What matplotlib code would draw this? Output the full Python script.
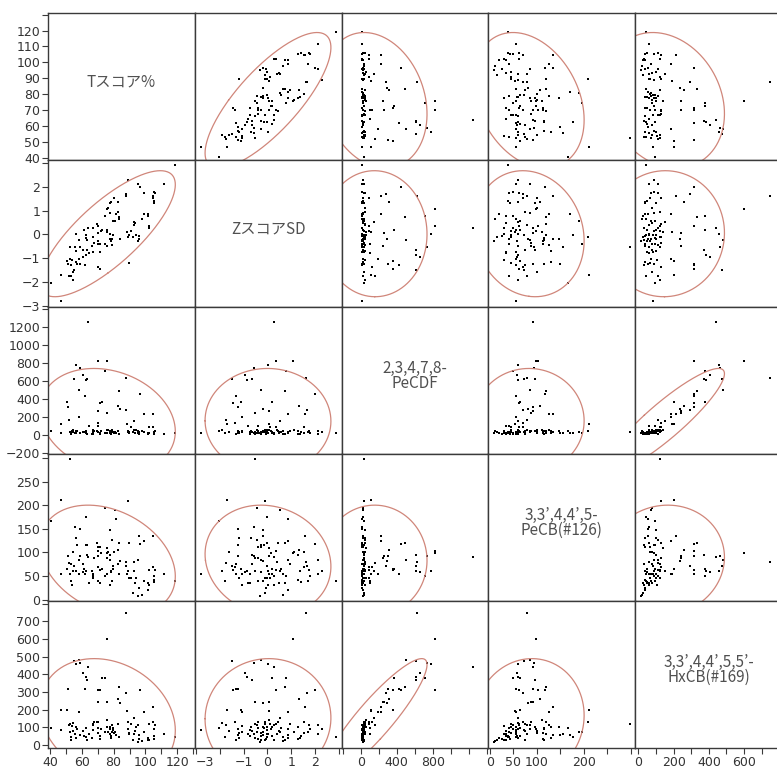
import numpy as np
import matplotlib.pyplot as plt

plt.rcParams['font.family'] = ['Noto Sans CJK JP', 'DejaVu Sans']

names = ['Tスコア%', 'ZスコアSD', '2,3,4,7,8-\nPeCDF',
         '3,3’,4,4’,5-\nPeCB(#126)', '3,3’,4,4’,5,5’-\nHxCB(#169)']

t_score = [118.8, 88.9, 111.7, 95.6, 96.6, 99.2, 87.5, 88.0, 80.0, 104.6,
           105.5, 106.0, 104.8, 105.6, 105.5, 78.0, 78.6, 76.6, 75.6, 83.0,
           77.8, 81.5, 82.5, 99.0, 101.8, 101.8, 74.6, 79.5, 81.0, 83.2,
           83.6, 98.0, 92.8, 93.4, 92.8, 102.0, 102.0, 69.7, 70.3, 63.8,
           61.5, 67.0, 72.6, 72.4, 75.6, 75.8, 70.3, 78.0, 79.5, 56.6,
           62.6, 62.6, 63.2, 67.0, 58.0, 70.3, 71.4, 77.6, 78.2, 79.0,
           84.0, 89.3, 89.6, 92.0, 94.0, 91.0, 88.5, 95.8, 96.2, 95.2,
           52.7, 56.0, 56.4, 59.0, 60.8, 63.4, 66.5, 67.4, 70.0, 74.8,
           75.6, 79.0, 71.6, 67.0, 64.5, 62.5, 60.5, 58.5, 56.4, 57.0,
           59.2, 62.2, 50.8, 52.8, 53.6, 51.5, 53.5, 55.0, 54.2, 53.2,
           51.8, 47.0, 54.5, 40.4, 47.0, 70.0, 71.5, 89.8]

z_score = [2.90, 2.30, 2.13, 2.13, 2.00, 1.72, 1.61, 1.68, 1.54, 1.60,
           1.78, 1.74, 1.52, 1.42, 1.30, 1.30, 1.36, 1.10, 1.08, 1.35,
           0.88, 0.85, 0.95, 0.86, 0.86, 0.76, 0.78, 0.58, 0.55, 0.65,
           0.74, 0.65, 0.52, 0.48, 0.40, 0.35, 0.28, 0.44, 0.35, 0.26,
           0.20, 0.28, 0.20, 0.14, 0.18, 0.08, 0.05, 0.02, -0.02, 0.03,
           -0.01, -0.14, -0.25, -0.10, -0.25, -0.28, -0.40, -0.18, -0.28, -0.20,
           -0.20, -0.10, -0.02, -0.10, -0.02, 0.12, 0.08, -0.05, -0.20, -0.30,
           -0.52, -0.55, -0.68, -0.55, -0.65, -0.65, -0.50, -0.38, -0.40, -0.42,
           -0.50, -0.45, -0.73, -0.73, -0.80, -0.87, -0.95, -1.05, -1.18, -1.25,
           -1.25, -1.30, -1.10, -1.05, -1.08, -1.25, -1.30, -1.50, -1.60, -1.76,
           -1.73, -1.70, -1.90, -2.04, -2.80, -1.38, -1.45, -1.21]

pecdf = [20, 30, 15, 40, 452, 35, 630, 277, 25, 230,
         20, 45, 90, 30, 10, 40, 15, 50, 826, 318,
         30, 20, 45, 230, 25, 15, 711, 35, 30, 10,
         489, 40, 150, 25, 50, 90, 20, 45, 826, 1251,
         30, 15, 366, 40, 25, 55, 260, 20, 35, 777,
         25, 40, 15, 50, 500, 30, 20, 45, 10, 30,
         290, 40, 20, 35, 55, 90, 119, 15, 30, 25,
         35, 20, 45, 740, 30, 620, 10, 40, 100, 25,
         248, 50, 15, 35, 100, 613, 660, 196, 25, 40,
         20, 430, 360, 30, 45, 307, 15, 620, 35, 25,
         160, 120, 50, 40, 20, 130, 355, 30]

pecb = [39, 60, 55, 85, 117, 40, 80, 71, 100, 135,
        50, 62, 70, 38, 42, 95, 60, 100, 99, 106,
        85, 170, 75, 125, 20, 35, 50, 65, 190, 55,
        120, 10, 60, 35, 80, 63, 30, 120, 103, 91,
        65, 50, 65, 98, 55, 110, 92, 30, 72, 60,
        176, 116, 116, 45, 85, 112, 112, 148, 58, 40,
        81, 209, 120, 15, 45, 45, 54, 25, 134, 8,
        298, 155, 130, 93, 75, 95, 60, 88, 40, 195,
        88, 126, 35, 55, 35, 60, 58, 55, 130, 116,
        150, 55, 65, 55, 30, 92, 75, 72, 100, 40,
        78, 211, 60, 167, 55, 70, 62, 45]

hxcb = [44, 90, 60, 110, 313, 70, 745, 291, 65, 213,
        90, 110, 130, 50, 35, 100, 40, 75, 602, 260,
        90, 55, 120, 185, 40, 25, 380, 95, 70, 45,
        330, 20, 150, 80, 60, 120, 30, 130, 313, 441,
        50, 110, 380, 90, 100, 140, 240, 60, 85, 460,
        45, 95, 30, 120, 482, 65, 35, 100, 50, 70,
        236, 130, 60, 25, 100, 120, 189, 35, 55, 15,
        120, 60, 100, 461, 80, 370, 40, 130, 95, 75,
        240, 110, 50, 85, 60, 385, 405, 185, 40, 90,
        55, 315, 200, 70, 105, 315, 30, 475, 80, 45,
        110, 200, 125, 96, 83, 130, 313, 65]

data = [np.array(v, dtype=float) for v in (t_score, z_score, pecdf, pecb, hxcb)]

limits = [(38.8, 131), (-3.05, 3.12), (-212, 1420), (-3, 309), (-18, 815)]

# y-axis ticks / labels (left column)
y_ticks = [np.arange(40, 131, 10), np.arange(-3, 4, 1), np.arange(-200, 1401, 200),
           np.arange(0, 301, 50), np.arange(0, 801, 100)]
y_labels = [[str(v) for v in range(40, 121, 10)] + [''],
            ['−3', '−2', '−1', '0', '1', '2', ''],
            ['−200', '0', '200', '400', '600', '800', '1000', '1200', ''],
            ['0', '50', '100', '150', '200', '250', ''],
            ['0', '100', '200', '300', '400', '500', '600', '700', '']]
# x-axis ticks / labels (bottom row)
x_ticks = [np.arange(40, 131, 10), np.arange(-3, 4, 1), np.arange(-200, 1401, 200),
           np.arange(0, 301, 50), np.arange(0, 801, 100)]
x_labels = [['40', '', '60', '', '80', '', '100', '', '120', ''],
            ['−3', '', '−1', '0', '1', '2', ''],
            ['', '0', '', '400', '', '800', '', '', ''],
            ['0', '50', '100', '', '200', '', ''],
            ['0', '', '200', '', '400', '', '600', '', '']]

W, H = 777, 773
fig = plt.figure(figsize=(W / 100, H / 100), dpi=100)
x0, y0 = 48, 13
cw, ch = 146.8, 147.0
frame = '#3a3a3a'
ell_color = '#d0867a'
k = np.sqrt(-2 * np.log(0.05))  # 95% density ellipse

for i in range(5):
    for j in range(5):
        ax = fig.add_axes([(x0 + j * cw) / W, 1 - (y0 + (i + 1) * ch) / H, cw / W, ch / H])
        ax.set_xlim(limits[j])
        ax.set_ylim(limits[i])
        for s in ax.spines.values():
            s.set_color(frame)
            s.set_linewidth(1.0)
        ax.tick_params(direction='out', length=4, width=0.8, color=frame,
                       labelsize=9, labelcolor='#333333', pad=1.5)
        ax.set_xticks(x_ticks[j])
        ax.set_yticks(y_ticks[i])
        if j == 0:
            ax.set_yticklabels(y_labels[i], family='DejaVu Sans')
        else:
            ax.tick_params(axis='y', left=False, labelleft=False)
        if i == 4:
            xt = ax.set_xticklabels(x_labels[j], family='DejaVu Sans')
            if j == 1:
                xt[0].set_horizontalalignment('left')  # keep "−3" clear of "120"
        else:
            ax.tick_params(axis='x', bottom=False, labelbottom=False)

        if i == j:
            ax.text(0.5, 0.53, names[i], transform=ax.transAxes, ha='center', va='center',
                    fontsize=11, color='#505050', linespacing=0.82)
            continue

        x, y = data[j], data[i]
        ax.scatter(x, y, s=2.5, c='black', marker='s', linewidths=0)
        cov = np.cov(x, y)
        vals, vecs = np.linalg.eigh(cov)
        th = np.linspace(0, 2 * np.pi, 300)
        circ = np.vstack([np.cos(th), np.sin(th)]) * np.sqrt(vals)[:, None] * k
        ex, ey = vecs @ circ
        ax.plot(ex + x.mean(), ey + y.mean(), color=ell_color, lw=0.9)

fig.savefig('out.png', dpi=100)
